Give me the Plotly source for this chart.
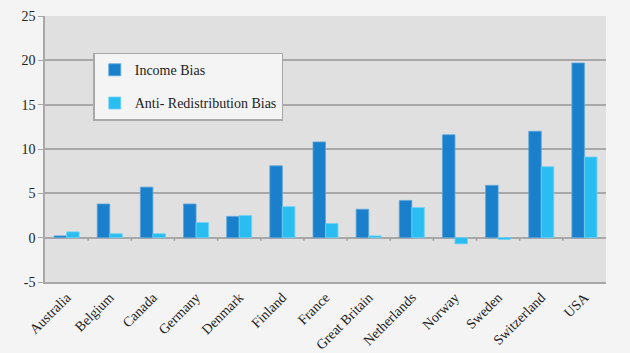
import plotly.graph_objects as go

countries = ["Australia", "Belgium", "Canada", "Germany", "Denmark", "Finland", "France",
             "Great Britain", "Netherlands", "Norway", "Sweden", "Switzerland", "USA"]
income_bias = [0.2, 3.8, 5.7, 3.8, 2.4, 8.1, 10.8, 3.2, 4.2, 11.6, 5.9, 12.0, 19.7]
anti_redistribution_bias = [0.65, 0.45, 0.45, 1.7, 2.5, 3.5, 1.6, 0.2, 3.4, -0.7, -0.2, 8.0, 9.1]
y_ticks = [-5, 0, 5, 10, 15, 20, 25]
y_tick_labels = ["-5", "0", "5", "10", "15", "20", "25"]

font_family = "Liberation Serif"

fig = go.Figure()
fig.add_trace(go.Bar(x=countries, y=income_bias, name="Income Bias",
                     marker=dict(color="#1a80cc", line=dict(color="#5aa6dd", width=0.8)),
                     legendgroup="a"))
fig.add_trace(go.Bar(x=countries, y=anti_redistribution_bias, name="Anti- Redistribution Bias",
                     marker=dict(color="#29bdf2", line=dict(color="#6fd2f5", width=0.8)),
                     legendgroup="b"))

# small tick marks on the zero line at category boundaries
shapes = []
for i in range(len(countries) - 1):
    shapes.append(dict(type="line", xref="x", yref="y", x0=i + 0.5, x1=i + 0.5, y0=0, y1=-0.35,
                       line=dict(color="#a0a0a0", width=1.5)))

fig.update_layout(
    width=630, height=353,
    margin=dict(l=45, r=24, t=16, b=71),
    paper_bgcolor="#f4f4f4",
    plot_bgcolor="#e0e0e0",
    barmode="group",
    bargap=0.42,
    bargroupgap=0,
    font=dict(family=font_family, size=13, color="#222222"),
    showlegend=True,
    legend=dict(x=0.086, y=0.862, xanchor="left", yanchor="top",
                bgcolor="#f4f4f4", bordercolor="#a8a8a8", borderwidth=1.5,
                font=dict(family=font_family, size=14, color="#222222"),
                tracegroupgap=12, itemwidth=30),
    shapes=shapes,
    xaxis=dict(tickangle=-45, showgrid=False, ticks="", showline=True,
               linecolor="#a8a8a8", linewidth=1.5, automargin=False,
               tickfont=dict(family=font_family, size=14, color="#222222")),
    yaxis=dict(range=[-5, 25], tickvals=y_ticks, ticktext=y_tick_labels,
               showgrid=True, gridcolor="#a8a8a8", automargin=False,
               gridwidth=1.5, zeroline=True, zerolinecolor="#a8a8a8", zerolinewidth=1.5,
               showline=True, linecolor="#a8a8a8", linewidth=1.5,
               ticks="outside", ticklen=5, tickcolor="#a8a8a8",
               tickfont=dict(family=font_family, size=14, color="#222222")),
)

fig.write_html("out.html")
